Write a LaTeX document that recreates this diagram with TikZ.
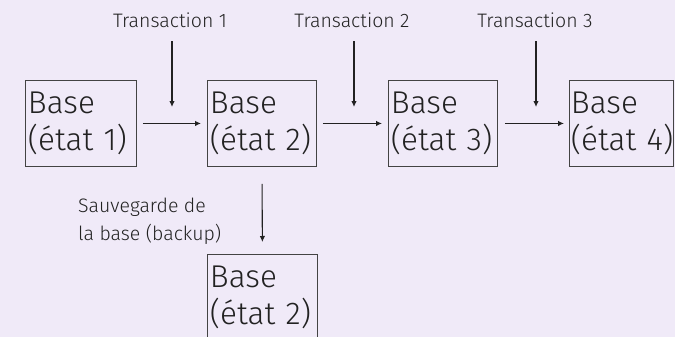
\documentclass[tikz,border=0pt]{standalone}
\usepackage{fontspec}
\setmainfont{Fira Sans Light}
\usetikzlibrary{arrows.meta}
\definecolor{bg}{HTML}{F0EAF8}
\definecolor{ink}{HTML}{222222}
\tikzset{
  basebox/.style={draw=ink!85, line width=0.9pt, text=ink, anchor=north west, align=left,
    inner xsep=2.5pt, inner ysep=0pt, minimum height=86pt,
    font=\fontsize{31.5}{37}\selectfont},
  lbl/.style={text=ink, inner sep=0pt, font=\fontsize{19.5}{28}\selectfont},
  arr/.style={draw=ink, line width=1.1pt, -{Latex[length=6pt,width=5.5pt]}}
}
\begin{document}
\begin{tikzpicture}[x=1pt,y=1pt]
\fill[bg] (0,0) rectangle (675,-337);
\useasboundingbox (0,0) rectangle (675,-337);
\node[basebox, text width=106pt] (b1) at (25,-80) {Base\\(état~1)};
\node[basebox, text width=104pt] (b2) at (207,-80) {Base\\(état~2)};
\node[basebox, text width=104pt] (b3) at (388,-80) {Base\\(état~3)};
\node[basebox, text width=101pt, inner xsep=1.5pt] (b4) at (569,-80) {Base\\(état~4)};
\node[basebox, text width=105pt] (b5) at (207,-254) {Base\\(état~2)};
\node[lbl, anchor=base] (t1) at (170,-28) {Transaction 1};
\node[lbl, anchor=base] (t2) at (352,-28) {Transaction 2};
\node[lbl, anchor=base] (t3) at (535,-28) {Transaction 3};
\node[lbl, anchor=north west, align=left] (sv) at (78,-198) {Sauvegarde de\\la base (backup)};
\coordinate (a1) at (172,-107);
\coordinate (a2) at (354,-107);
\coordinate (a3) at (536,-107);
\draw[arr, shorten <=13pt] (t1.south -| a1) -- (a1);
\draw[arr, shorten <=13pt] (t2.south -| a2) -- (a2);
\draw[arr, shorten <=13pt] (t3.south -| a3) -- (a3);
\draw[arr, shorten <=6pt, shorten >=6pt] (b1.east) -- (b2.west);
\draw[arr, shorten <=6pt, shorten >=6pt] (b2.east) -- (b3.west);
\draw[arr, shorten <=7pt, shorten >=5pt] (b3.east) -- (b4.west);
\draw[arr, shorten <=17pt, shorten >=12pt] (b2.south) -- (b5.north);
\end{tikzpicture}
\end{document}
